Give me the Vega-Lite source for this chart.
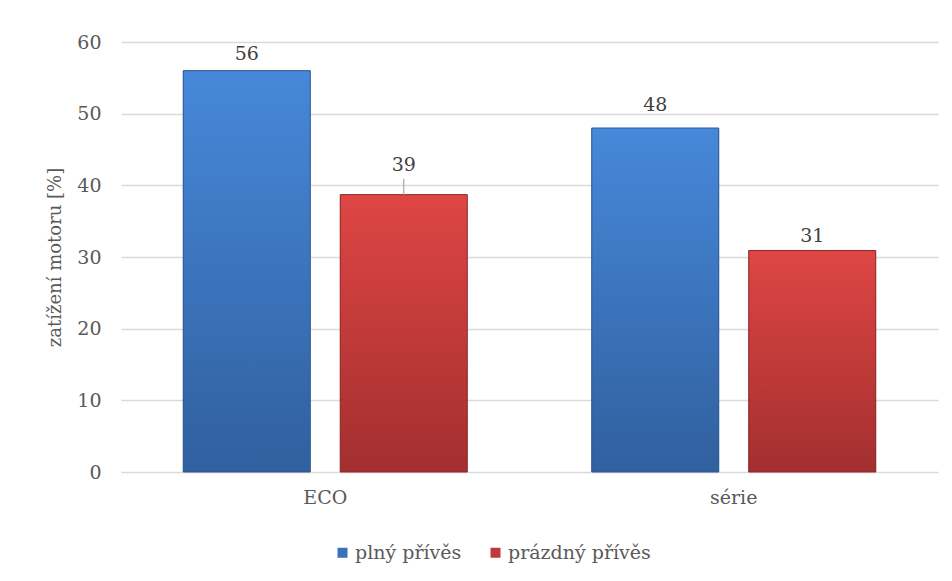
{
  "$schema": "https://vega.github.io/schema/vega-lite/v6.json",
  "autosize": {"type": "none"},
  "padding": {"left": 121, "top": 42, "right": 14, "bottom": 109},
  "width": 817,
  "height": 430,
  "background": "white",
  "config": {"font": "DejaVu Serif", "view": {"stroke": null}},
  "data": {
    "values": [
      {"mode": "ECO", "series": "plný přívěs", "value": 56},
      {"mode": "ECO", "series": "prázdný přívěs", "value": 38.7},
      {"mode": "série", "series": "plný přívěs", "value": 48},
      {"mode": "série", "series": "prázdný přívěs", "value": 30.9}
    ]
  },
  "encoding": {
    "x": {
      "field": "mode", "type": "nominal", "sort": ["ECO", "série"],
      "scale": {"paddingInner": 0, "paddingOuter": 0},
      "axis": {"title": null, "labelAngle": 0, "labelFont": "DejaVu Serif", "labelFontSize": 19, "labelColor": "#595959", "ticks": false, "domain": false, "labelPadding": 16}
    },
    "xOffset": {
      "field": "series", "type": "nominal", "sort": ["plný přívěs", "prázdný přívěs"],
      "scale": {"paddingInner": 0.191, "paddingOuter": 0.3965}
    },
    "y": {
      "field": "value", "type": "quantitative",
      "scale": {"domain": [0, 60]},
      "axis": {"title": "zatížení motoru [%]", "values": [0, 10, 20, 30, 40, 50, 60], "grid": true, "gridColor": "#d9d9d9", "gridWidth": 1.5, "ticks": false, "domain": false, "labelFont": "DejaVu Serif", "labelFontSize": 19, "labelColor": "#595959", "labelPadding": 20, "titleFont": "DejaVu Serif", "titleFontSize": 18, "titleColor": "#595959", "titleFontWeight": "normal", "titlePadding": 12}
    }
  },
  "layer": [
    {
      "mark": {"type": "bar"},
      "encoding": {
        "color": {
          "field": "series", "type": "nominal", "sort": ["plný přívěs", "prázdný přívěs"],
          "scale": {"domain": ["plný přívěs", "prázdný přívěs"], "range": ["#3a70bc", "#c03a39"]},
          "legend": {"orient": "none", "legendX": 212, "legendY": 501, "direction": "horizontal", "title": null, "symbolType": "square", "symbolSize": 100, "symbolStrokeWidth": 0, "labelFont": "DejaVu Serif", "labelFontSize": 19, "labelColor": "#595959", "columnPadding": 24, "labelOffset": 3}
        }
      }
    },
    {
      "transform": [{"filter": "datum.series == 'plný přívěs'"}],
      "mark": {"type": "bar", "stroke": "#2c5893", "strokeWidth": 1, "fill": {"gradient": "linear", "x1": 0, "y1": 0, "x2": 0, "y2": 1, "stops": [{"offset": 0, "color": "#4788da"}, {"offset": 1, "color": "#30609e"}]}}
    },
    {
      "transform": [{"filter": "datum.series == 'prázdný přívěs'"}],
      "mark": {"type": "bar", "stroke": "#8c2828", "strokeWidth": 1, "fill": {"gradient": "linear", "x1": 0, "y1": 0, "x2": 0, "y2": 1, "stops": [{"offset": 0, "color": "#de4644"}, {"offset": 1, "color": "#a32f2f"}]}}
    },
    {
      "transform": [{"filter": "datum.mode == 'ECO' && datum.series == 'plný přívěs'"}],
      "mark": {"type": "text", "baseline": "alphabetic", "dy": -11, "font": "DejaVu Serif", "fontSize": 19, "color": "#404040"},
      "encoding": {"text": {"field": "value", "type": "quantitative", "format": ".0f"}}
    },
    {
      "transform": [{"filter": "datum.mode == 'série' && datum.series == 'plný přívěs'"}],
      "mark": {"type": "text", "baseline": "alphabetic", "dy": -17, "font": "DejaVu Serif", "fontSize": 19, "color": "#404040"},
      "encoding": {"text": {"field": "value", "type": "quantitative", "format": ".0f"}}
    },
    {
      "transform": [{"filter": "datum.mode == 'série' && datum.series == 'prázdný přívěs'"}],
      "mark": {"type": "text", "baseline": "alphabetic", "dy": -9, "font": "DejaVu Serif", "fontSize": 19, "color": "#404040"},
      "encoding": {"text": {"field": "value", "type": "quantitative", "format": ".0f"}}
    },
    {
      "transform": [{"filter": "datum.mode == 'ECO' && datum.series == 'prázdný přívěs'"}],
      "mark": {"type": "text", "baseline": "alphabetic", "dy": -24, "font": "DejaVu Serif", "fontSize": 19, "color": "#404040"},
      "encoding": {"text": {"field": "value", "type": "quantitative", "format": ".0f"}}
    },
    {
      "transform": [{"filter": "datum.mode == 'ECO' && datum.series == 'prázdný přívěs'"}],
      "mark": {"type": "rule", "color": "#a6a6a6", "strokeWidth": 1.2, "y2Offset": -16},
      "encoding": {"y2": {"field": "value"}}
    }
  ]
}
